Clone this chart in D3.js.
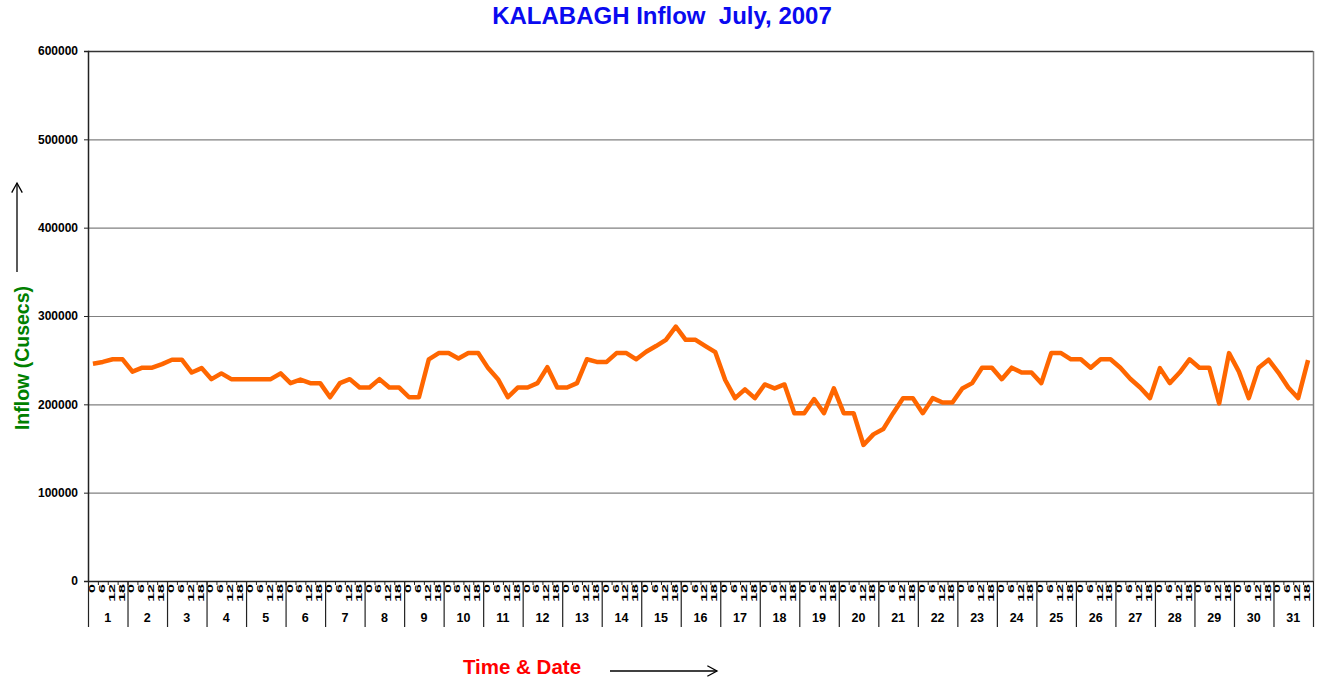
<!DOCTYPE html>
<html>
<head>
<meta charset="utf-8">
<script src="https://cdn.jsdelivr.net/npm/d3@7.9.0/dist/d3.min.js"></script>
<style>
  body { margin: 0; background: #fff; }
  text { font-family: Arial, "Liberation Sans", sans-serif; font-weight: bold; }
</style>
</head>
<body>
<svg id="chart" width="1319" height="681"></svg>
<script>
// ---- data: 4 readings a day (0, 6, 12, 18 hrs), July 1..31 ----
const days = d3.range(1, 32);
const hours = ['0', '6', '12', '18'];
const yTicks = [0, 100000, 200000, 300000, 400000, 500000, 600000];

const inflow = [
  246000, 248000, 251000, 251000,  // 1
  237000, 241500, 241500, 245500,  // 2
  250500, 250500, 236000, 241000,  // 3
  228500, 235000, 228500, 228500,  // 4
  228500, 228500, 228500, 235000,  // 5
  224000, 228000, 224000, 224000,  // 6
  208000, 224000, 228500, 219000,  // 7
  219000, 228500, 219000, 219000,  // 8
  208000, 208000, 251000, 258000,  // 9
  258000, 252000, 258000, 258000,  // 10
  241000, 228500, 208000, 219000,  // 11
  219000, 224000, 242000, 219000,  // 12
  219000, 224000, 251000, 248000,  // 13
  248000, 258000, 258000, 251000,  // 14
  259500, 266000, 273000, 288000,  // 15
  273000, 273000, 266000, 259000,  // 16
  227500, 207000, 217000, 207000,  // 17
  222500, 218000, 222500, 190000,  // 18
  190000, 206000, 190000, 218000,  // 19
  190000, 190000, 154000, 166000,  // 20
  172000, 190000, 207000, 207000,  // 21
  190000, 207000, 202000, 202000,  // 22
  218000, 224000, 241500, 241500,  // 23
  228500, 241500, 236000, 236000,  // 24
  224000, 258000, 258000, 251000,  // 25
  251000, 241500, 251000, 251000,  // 26
  241500, 229000, 219000, 207000,  // 27
  241000, 224000, 236000, 251000,  // 28
  241500, 241500, 201000, 258000,  // 29
  237000, 207000, 241500, 250500,  // 30
  236000, 219000, 207000, 250000   // 31
];

// ---- layout ----
const svg = d3.select('#chart');
const plotL = 88, plotR = 1313, plotT = 51, plotB = 581;

const slots = days.flatMap(d => hours.map(h => `${d}-${h}`));
const x = d3.scaleBand().domain(slots).range([plotL, plotR]);
const xDay = d3.scaleBand().domain(days).range([plotL, plotR]);
const y = d3.scaleLinear().domain([0, 600000]).range([plotB, plotT]);

// gridlines
svg.append('g')
  .selectAll('line')
  .data(yTicks.filter(v => v > 0))
  .join('line')
  .attr('x1', plotL).attr('x2', plotR)
  .attr('y1', d => y(d) + 0.5).attr('y2', d => y(d) + 0.5)
  .attr('stroke', d => d === 600000 ? '#333' : '#808080')
  .attr('stroke-width', d => d === 600000 ? 1.5 : 1.2);

// right border
svg.append('line')
  .attr('x1', plotR + 0.5).attr('x2', plotR + 0.5)
  .attr('y1', plotT).attr('y2', plotB)
  .attr('stroke', '#808080').attr('stroke-width', 1.5);

// y axis
const yAxis = svg.append('g')
  .attr('transform', `translate(${plotL},0)`)
  .call(d3.axisLeft(y).tickValues(yTicks).tickSize(4).tickPadding(6).tickFormat(d3.format('d')));
yAxis.select('.domain').attr('stroke', '#222').attr('stroke-width', 1.5);
yAxis.selectAll('.tick line').attr('stroke', '#222');
yAxis.selectAll('.tick text')
  .attr('font-size', 12).attr('font-weight', 'bold').attr('fill', '#000')
  .attr('font-family', 'Arial, "Liberation Sans", sans-serif');

// x axis: hour ticks
const xAxis = svg.append('g').attr('transform', `translate(0,${plotB})`);
xAxis.append('line')
  .attr('x1', plotL).attr('x2', plotR)
  .attr('y1', 0.5).attr('y2', 0.5)
  .attr('stroke', '#222').attr('stroke-width', 1.5);
xAxis.selectAll('.minor')
  .data(slots)
  .join('line')
  .attr('class', 'minor')
  .attr('x1', d => x(d) + 0.5).attr('x2', d => x(d) + 0.5)
  .attr('y1', 0).attr('y2', 4)
  .attr('stroke', '#222');
xAxis.selectAll('.hr')
  .data(slots)
  .join('text')
  .attr('class', 'hr')
  .attr('transform', d => `translate(${x(d) + x.bandwidth() / 2 + 2},${3}) rotate(-90) scale(1.6,0.85)`)
  .attr('text-anchor', 'end')
  .attr('font-size', 10)
  .text(d => d.split('-')[1]);

// day separators and labels
xAxis.selectAll('.sep')
  .data(days.concat([32]))
  .join('line')
  .attr('class', 'sep')
  .attr('x1', d => (d === 32 ? plotR : xDay(d)) + 0.5)
  .attr('x2', d => (d === 32 ? plotR : xDay(d)) + 0.5)
  .attr('y1', 0).attr('y2', 46)
  .attr('stroke', '#222').attr('stroke-width', 1.2);
xAxis.selectAll('.day')
  .data(days)
  .join('text')
  .attr('class', 'day')
  .attr('x', d => xDay(d) + xDay.bandwidth() / 2)
  .attr('y', 41)
  .attr('text-anchor', 'middle')
  .attr('font-size', 12.5)
  .text(d => d);

// series
const line = d3.line()
  .x((d, i) => x(slots[i]) + x.bandwidth() / 2)
  .y(d => y(d));
svg.append('path')
  .datum(inflow)
  .attr('d', line)
  .attr('fill', 'none')
  .attr('stroke', '#FF6600')
  .attr('stroke-width', 4.5)
  .attr('stroke-linejoin', 'round');

// titles
svg.append('text')
  .attr('x', 662).attr('y', 24)
  .attr('text-anchor', 'middle')
  .attr('font-size', 24)
  .attr('fill', '#0A0AF0')
  .attr('xml:space', 'preserve')
  .text('KALABAGH Inflow  July, 2007');

svg.append('text')
  .attr('transform', 'translate(29,358) rotate(-90)')
  .attr('text-anchor', 'middle')
  .attr('font-size', 19.5)
  .attr('fill', '#008000')
  .text('Inflow (Cusecs)');

svg.append('text')
  .attr('x', 522).attr('y', 674)
  .attr('text-anchor', 'middle')
  .attr('font-size', 20.5)
  .attr('fill', '#FF0000')
  .text('Time & Date');

// arrows
function arrow(x1, y1, x2, y2) {
  const g = svg.append('g').attr('stroke', '#000').attr('stroke-width', 1.3).attr('fill', 'none');
  g.append('line').attr('x1', x1).attr('y1', y1).attr('x2', x2).attr('y2', y2);
  const a = Math.atan2(y2 - y1, x2 - x1), L = 11, w = 0.5;
  g.append('path').attr('d', `M${x2 - L * Math.cos(a - w)},${y2 - L * Math.sin(a - w)}L${x2},${y2}L${x2 - L * Math.cos(a + w)},${y2 - L * Math.sin(a + w)}`);
}
arrow(17, 272, 17, 183);
arrow(610, 671, 717, 671);
</script>
</body>
</html>
